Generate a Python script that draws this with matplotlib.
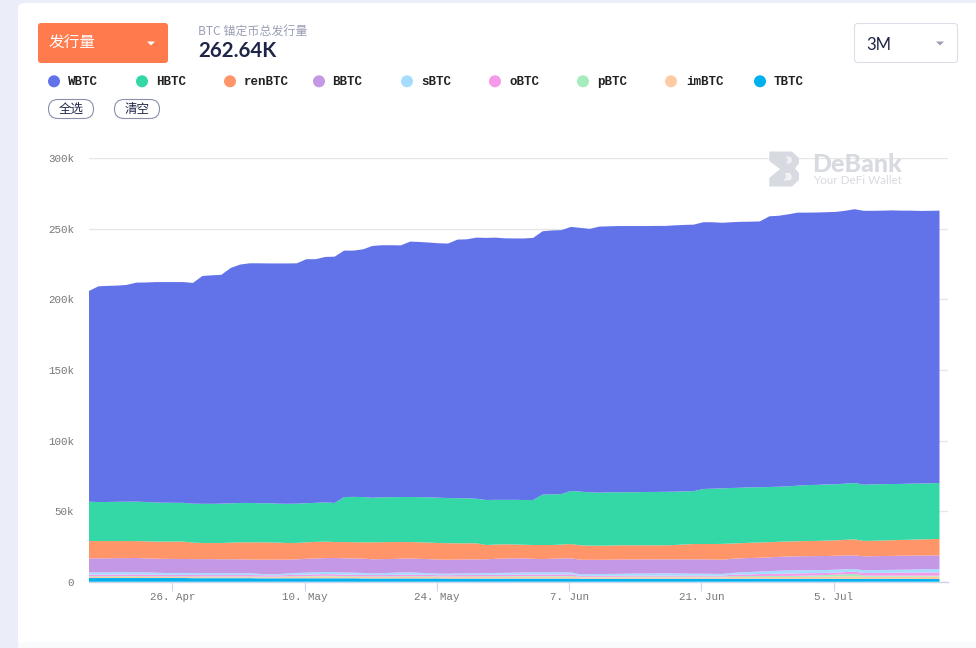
import numpy as np
import matplotlib
matplotlib.use("Agg")
import matplotlib.pyplot as plt
import matplotlib.dates as mdates
from matplotlib.patches import FancyBboxPatch, Rectangle, Circle, Polygon
from matplotlib.ticker import FuncFormatter, FixedLocator

CJK = ['Noto Sans CJK SC', 'DejaVu Sans']
MONO = 'Liberation Mono'

names = ['WBTC', 'HBTC', 'renBTC', 'BBTC', 'sBTC', 'oBTC', 'pBTC', 'imBTC', 'TBTC']
colors = ['#6272E8', '#33D8A6', '#FF9569', '#C598E6', '#A6DDFF', '#F49AE8', '#A4EBBD', '#FFCBA4', '#00B1EE']

# Upper edge of each stacked layer, thousands of BTC, one value per day
top_wbtc = [206.0,209.3,209.6,209.8,210.3,211.9,212.0,212.3,212.3,212.3,212.3,211.7,216.6,217.1,217.4,222.3,224.7,225.6,225.6,225.5,225.5,225.5,225.6,228.5,228.5,230.1,230.3,234.6,234.6,235.5,237.9,
            238.4,238.4,238.3,241.0,240.7,240.3,239.8,239.6,242.4,242.6,243.8,243.6,243.8,243.3,243.2,243.2,243.6,248.3,248.9,249.1,251.4,250.7,250.0,251.6,251.8,252.0,252.0,252.0,252.0,252.1,252.1,252.5,
            252.8,253.0,254.7,254.7,254.3,254.7,255.0,255.1,255.3,258.9,259.3,260.3,261.5,261.5,261.6,261.8,262.0,262.8,263.9,262.8,262.8,262.9,263.1,262.9,262.9,262.7,262.8,262.9]
top_hbtc = [56.7,56.4,56.5,56.6,56.7,56.7,56.5,56.1,56.0,55.9,55.9,55.3,55.2,55.2,55.3,55.5,55.8,55.8,55.6,55.6,55.3,55.2,55.3,55.6,55.9,56.2,55.8,60.0,60.1,60.0,59.5,
            59.8,59.9,60.0,60.0,59.9,59.8,59.5,59.3,59.1,59.1,58.8,57.9,58.0,58.0,58.0,57.9,57.9,61.7,61.9,62.1,64.3,63.8,63.3,63.1,63.3,63.4,63.4,63.4,63.6,63.6,63.7,63.8,
            64.0,64.15,65.7,65.9,66.15,66.4,66.6,66.9,66.9,67.1,67.3,67.6,68.05,68.5,68.6,68.9,69.0,69.5,69.9,68.75,69.0,69.1,69.2,69.3,69.5,69.6,69.7,69.9]
top_ren = [28.8,28.8,28.8,28.8,28.8,28.8,28.6,28.4,28.4,28.4,28.4,27.7,27.4,27.4,27.4,27.7,27.9,27.9,27.9,27.8,27.7,27.4,27.5,27.9,28.2,28.4,28.1,28.1,28.0,27.9,27.9,
           28.0,28.1,28.1,28.1,27.9,27.7,27.4,27.3,27.2,27.2,27.2,26.0,26.3,26.5,26.4,26.2,26.0,26.0,26.0,26.3,26.7,25.8,25.6,25.5,25.6,25.8,25.8,25.8,25.8,25.8,25.8,26.0,
           26.4,26.7,26.7,26.7,26.8,27.0,27.3,27.6,27.8,28.0,28.3,28.5,28.7,28.8,28.9,29.1,29.3,29.7,30.0,28.9,29.0,29.2,29.4,29.6,29.8,30.0,30.1,30.3]
top_bbtc = [16.5,16.6,16.6,16.7,16.7,16.8,16.5,16.3,16.2,16.1,16.1,16.0,16.0,16.0,15.9,15.9,15.85,15.7,15.6,15.6,15.6,15.7,15.85,16.2,16.5,16.7,16.8,16.6,16.5,16.3,15.9,
            16.0,16.1,16.3,16.5,16.2,16.0,15.7,15.6,15.7,15.8,15.85,15.9,16.2,16.4,16.6,16.6,16.2,16.0,16.3,16.5,16.55,15.6,15.5,15.5,15.6,15.7,15.8,15.8,15.8,15.85,15.85,15.85,
            15.85,15.85,15.85,15.7,15.6,16.2,16.6,16.8,17.0,17.3,17.6,17.9,18.0,18.1,18.15,18.2,18.4,18.6,18.7,18.0,18.1,18.2,18.3,18.4,18.5,18.6,18.65,18.7]
top_sbtc = [6.6,6.6,6.6,6.7,6.7,6.75,6.6,6.4,6.2,6.2,6.2,6.1,6.1,6.1,6.0,6.0,6.0,6.0,5.6,5.2,5.4,5.8,6.2,6.4,6.7,6.9,6.8,6.5,6.4,6.2,5.9,
            6.0,6.3,6.6,6.6,6.3,6.0,5.7,5.7,5.8,5.9,6.0,6.1,6.2,6.3,6.4,6.5,6.6,6.6,6.6,6.6,6.6,5.2,5.3,5.4,5.5,5.6,5.7,5.8,5.8,5.9,5.9,5.9,
            5.8,5.7,5.7,5.6,5.5,6.2,6.6,6.9,7.2,7.5,7.8,8.0,8.1,8.2,8.2,8.3,8.5,8.8,9.0,8.1,8.2,8.3,8.4,8.5,8.6,8.8,8.9,9.0]
top_obtc = [5.0,5.0,5.0,5.1,5.1,5.2,5.1,5.0,4.9,4.8,4.8,4.8,4.7,4.7,4.7,4.7,4.7,4.7,4.6,4.5,4.5,4.7,4.9,5.0,5.2,5.4,5.2,5.0,5.0,4.8,4.7,
            4.7,4.8,5.0,5.0,4.9,4.8,4.6,4.6,4.7,4.7,4.8,4.8,4.9,4.9,5.0,5.1,5.1,5.1,5.1,5.2,5.2,4.1,4.1,4.2,4.2,4.2,4.3,4.3,4.3,4.3,4.3,4.3,
            4.3,4.3,4.3,4.3,4.3,4.9,5.1,5.2,5.4,5.5,5.7,5.8,5.9,6.0,6.1,6.2,6.4,6.8,7.1,6.2,6.2,6.3,6.3,6.4,6.4,6.5,6.5,6.6]
top_pbtc = [3.9,3.9,3.9,4.0,4.0,4.0,3.9,3.9,3.8,3.8,3.8,3.8,3.7,3.7,3.7,3.7,3.7,3.7,3.6,3.6,3.6,3.8,3.9,4.0,4.1,4.2,4.1,4.0,3.9,3.8,3.8,
            3.8,3.8,3.9,3.9,3.9,3.8,3.7,3.7,3.7,3.8,3.8,3.8,3.9,3.9,4.0,4.0,4.0,4.0,4.0,4.0,4.0,3.5,3.5,3.5,3.5,3.5,3.6,3.6,3.6,3.6,3.6,3.6,
            3.6,3.6,3.6,3.6,3.6,3.9,3.9,4.0,4.0,4.1,4.1,4.1,4.2,4.3,4.5,4.7,5.0,5.2,5.5,4.4,4.3,4.3,4.3,4.3,4.3,4.3,4.3,4.3]
top_imbtc = [3.4,3.4,3.4,3.5,3.5,3.5,3.4,3.4,3.3,3.3,3.3,3.3,3.2,3.2,3.2,3.2,3.2,3.2,3.1,3.1,3.2,3.3,3.5,3.6,3.7,3.7,3.6,3.5,3.4,3.3,3.3,
             3.3,3.3,3.4,3.4,3.4,3.3,3.3,3.3,3.3,3.3,3.4,3.4,3.4,3.4,3.5,3.5,3.5,3.5,3.5,3.5,3.5,3.1,3.1,3.1,3.1,3.1,3.1,3.1,3.1,3.1,3.1,3.1,
             3.1,3.1,3.1,3.1,3.1,3.3,3.3,3.3,3.4,3.4,3.4,3.4,3.4,3.5,3.5,3.6,3.7,3.8,3.8,3.5,3.5,3.5,3.6,3.6,3.6,3.6,3.7,3.7]
top_tbtc = [2.6,2.6,2.6,2.6,2.6,2.6,2.6,2.6,2.6,2.6,2.6,2.5,2.5,2.5,2.5,2.5,2.5,2.5,2.4,2.4,2.4,2.4,2.4,2.4,2.4,2.4,2.4,2.4,2.4,2.3,2.3,
            2.3,2.3,2.3,2.3,2.3,2.3,2.3,2.2,2.2,2.2,2.2,2.2,2.2,2.2,2.2,2.2,2.2,2.2,2.2,2.2,2.2,2.1,2.1,2.1,2.1,2.1,2.1,2.1,2.1,2.1,2.1,2.1,
            2.1,2.1,2.1,2.1,2.1,2.1,2.1,2.1,2.1,2.1,2.0,2.0,2.0,2.0,2.0,2.0,2.0,2.0,2.0,2.0,2.0,2.0,2.0,2.0,2.0,1.9,1.9,1.9]

y_ticks = [0, 50, 100, 150, 200, 250, 300]
tick_dates = ['2021-04-26', '2021-05-10', '2021-05-24', '2021-06-07', '2021-06-21', '2021-07-05']
first_day = np.datetime64('2021-04-17T04:30')
legend_x = [54, 142, 230, 319, 407, 495, 583, 671, 760]
legend_text_x = [68, 156, 244, 332, 421, 509, 597, 686, 774]

W, H = 976, 648
fig = plt.figure(figsize=(W / 100, H / 100), dpi=100, facecolor='#EBEEF8')

bg = fig.add_axes([0, 0, 1, 1], zorder=0)
bg.set_xlim(0, W); bg.set_ylim(H, 0); bg.axis('off')
bg.add_patch(FancyBboxPatch((18, 3), 1100, 700, boxstyle='round,pad=0,rounding_size=6', fc='white', ec='none'))
bg.add_patch(Rectangle((18, 642), 960, 8, fc='#F9FAFC', ec='none'))

# Chart
px_left, px_right, px_top, px_zero = 89, 948, 158.3, 581.7
ax = fig.add_axes([px_left / W, 1 - px_zero / H, (px_right - px_left) / W, (px_zero - px_top) / H], zorder=1)
ax.patch.set_alpha(0)
days = first_day + np.arange(len(top_wbtc)) * np.timedelta64(1, 'D')
x = mdates.date2num(days)
tops = np.array([top_wbtc, top_hbtc, top_ren, top_bbtc, top_sbtc, top_obtc, top_pbtc, top_imbtc, top_tbtc])
layers = tops - np.vstack([tops[1:], np.zeros(tops.shape[1])])
ax.stackplot(x, layers[::-1], colors=colors[::-1], linewidth=0, zorder=3)
ax.set_ylim(0, 300)
ax.set_xlim(x[0], x[0] + (px_right - px_left) / 9.45)
ax.set_yticks(y_ticks)
ax.yaxis.set_major_formatter(FuncFormatter(lambda v, p: '0' if v == 0 else f'{int(v)}k'))
ax.xaxis.set_major_locator(FixedLocator(mdates.date2num(np.array(tick_dates, dtype='datetime64[D]'))))
ax.xaxis.set_major_formatter(FuncFormatter(lambda v, p: (lambda d: f'{d.day}. {d:%b}')(mdates.num2date(v))))
ax.grid(axis='y', color='#E6E6E6', lw=1, zorder=0)
ax.set_axisbelow(True)
for s in ['top', 'right', 'left']:
    ax.spines[s].set_visible(False)
ax.spines['bottom'].set_color('#CCD6EB')
ax.spines['bottom'].set_linewidth(1)
ax.tick_params(axis='y', length=0, pad=10.8, labelsize=7.8, labelcolor='#777777')
ax.tick_params(axis='x', length=6.5, width=0.8, color='#CCD6EB', pad=1, labelsize=7.8, labelcolor='#777777')
for lab in ax.get_xticklabels() + ax.get_yticklabels():
    lab.set_fontfamily(MONO)

# Overlay
ui = fig.add_axes([0, 0, 1, 1], zorder=2)
ui.set_xlim(0, W); ui.set_ylim(H, 0); ui.axis('off'); ui.patch.set_alpha(0)

ui.add_patch(FancyBboxPatch((38, 23), 130, 40, boxstyle='round,pad=0,rounding_size=3', fc='#FF7A4D', ec='none'))
ui.text(49, 43.5, '发行量', family=CJK, fontsize=11.25, fontweight='medium', color='white', va='center', ha='left')
ui.add_patch(Polygon([(147, 41.5), (155, 41.5), (151, 45.5)], fc='white', ec='none'))
ui.text(198, 31, 'BTC 锚定币总发行量', family=CJK, fontsize=8.65, color='#9A9FB5', va='center', ha='left')
ui.text(198, 51, '262.64K', family='Lato', fontweight='bold', fontsize=14.7, color='#1E2546', va='center', ha='left')

ui.add_patch(FancyBboxPatch((854.5, 23.5), 103, 39, boxstyle='round,pad=0,rounding_size=3', fc='white', ec='#DDDFE8', lw=0.8))
ui.text(866, 44.5, '3M', family='Lato', fontsize=12, color='#1E2546', va='center', ha='left')
ui.add_patch(Polygon([(936, 41.5), (944, 41.5), (940, 45.5)], fc='#9A9FB5', ec='none'))

for name, c, cx, tx in zip(names, colors, legend_x, legend_text_x):
    ui.add_patch(Circle((cx, 81.3), 6, fc=c, ec='none'))
    ui.text(tx, 85, name, family=MONO, fontweight='bold', fontsize=9, color='#222222', va='baseline', ha='left')

for x0, label in [(48, '全选'), (114, '清空')]:
    ui.add_patch(FancyBboxPatch((x0 + .5, 99.5), 45, 19, boxstyle='round,pad=0,rounding_size=9.5', fc='white', ec='#8A90AA', lw=0.8))
    ui.text(x0 + 23, 109.5, label, family=CJK, fontsize=9, fontweight='medium', color='#1E2546', va='center', ha='center')

# Watermark
wm = '#D8DAE1'
ui.add_patch(Polygon([(769.3, 151.5), (792, 151.5), (799, 158), (799, 163), (795, 168.5), (799, 173), (799, 180), (792, 186.5),
                      (769.3, 186.5), (769.3, 178), (780, 169), (769.3, 161)], fc=wm, ec='none'))
ui.add_patch(Polygon([(786, 156), (791, 157), (792, 161), (790, 163.5), (786, 163.5), (788, 160)], fc='#F0F1F4', ec='none'))
ui.add_patch(Polygon([(785, 173), (790, 173), (792, 176), (791, 180), (783, 181), (786, 177)], fc='#F0F1F4', ec='none'))
ui.text(812.5, 164, 'DeBank', family='Lato', fontweight='black', fontsize=18, color=wm, va='center', ha='left')
ui.text(813, 180, 'Your DeFi Wallet', family='Lato', fontsize=8.4, color=wm, va='center', ha='left')

fig.savefig('out.png', dpi=100)
